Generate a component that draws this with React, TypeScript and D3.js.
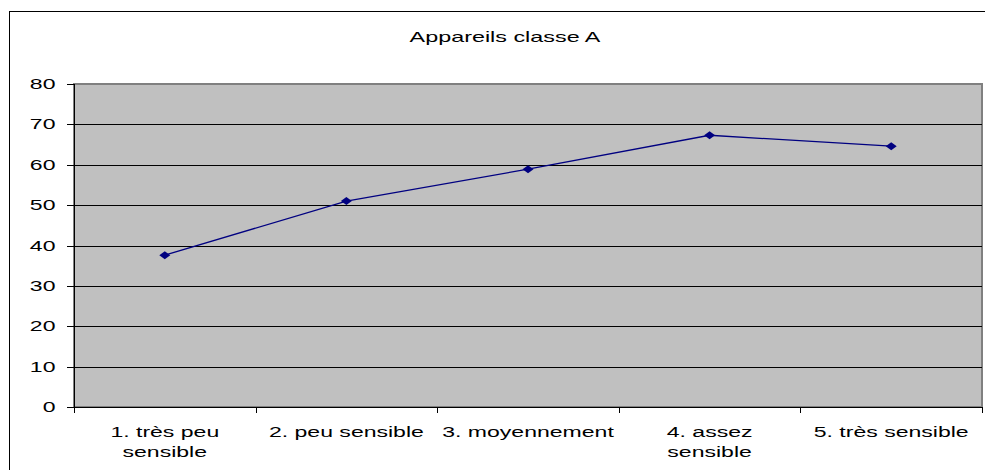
import React from "react";
import * as d3 from "d3";

const title = "Appareils classe A";
const categories = [["1. très peu", "sensible"], ["2. peu sensible"], ["3. moyennement"], ["4. assez", "sensible"], ["5. très sensible"]];
const values = [37.6, 51.0, 58.9, 67.3, 64.6];
const yTicks = [0, 10, 20, 30, 40, 50, 60, 70, 80];

const W = 985, H = 470;
const plot = { left: 74, top: 84, right: 982, bottom: 407 };
const SX = 1.6;
const FONT = "Liberation Sans, Arial, sans-serif";

export default function App() {
  const x = d3.scaleBand<number>().domain(d3.range(categories.length)).range([plot.left, plot.right]).padding(0);
  const y = d3.scaleLinear().domain([0, 80]).range([plot.bottom, plot.top]);
  const line = d3.line<number>().x((_, i) => x(i)! + x.bandwidth() / 2).y((d) => y(d));
  const boundaries = d3.range(categories.length + 1).map((i) => plot.left + i * x.bandwidth());

  const stretched = (tx: number, ty: number, anchor: string, text: string, size = 14, key?: any) => (
    <text key={key} transform={`translate(${tx},${ty}) scale(${SX},1)`} textAnchor={anchor} fontFamily={FONT} fontSize={size} fill="#000">{text}</text>
  );

  return (
    <svg width={W} height={H} style={{ position: "absolute", left: 0, top: 0 }}>
      <rect x={0} y={0} width={W} height={H} fill="#fff" />
      <rect x={9.5} y={11.5} width={W + 10} height={H + 10} fill="none" stroke="#000" strokeWidth={1} />
      {stretched(505, 42, "middle", title, 14.6)}
      <rect x={plot.left} y={plot.top} width={plot.right - plot.left} height={plot.bottom - plot.top} fill="#C0C0C0" stroke="#808080" strokeWidth={2} />
      {yTicks.filter((t) => t > 0 && t < 80).map((t) => (
        <line key={t} x1={plot.left} x2={plot.right} y1={Math.round(y(t)) + 0.5} y2={Math.round(y(t)) + 0.5} stroke="#000" strokeWidth={1} />
      ))}
      <line x1={plot.left + 0.5} x2={plot.left + 0.5} y1={plot.top} y2={plot.bottom} stroke="#000" />
      <line x1={plot.left} x2={plot.right} y1={plot.bottom + 0.5} y2={plot.bottom + 0.5} stroke="#000" />
      {yTicks.map((t) => (
        <g key={t}>
          <line x1={67} x2={plot.left} y1={Math.round(y(t)) + 0.5} y2={Math.round(y(t)) + 0.5} stroke="#000" />
          {stretched(55.5, y(t) + 5, "end", String(t), 14.4)}
        </g>
      ))}
      {boundaries.map((b, i) => (
        <line key={i} x1={Math.round(b) + 0.5} x2={Math.round(b) + 0.5} y1={plot.bottom} y2={plot.bottom + 6} stroke="#000" />
      ))}
      {categories.map((lines, i) => (
        <g key={i}>
          {lines.map((l, j) => stretched(x(i)! + x.bandwidth() / 2, 437 + j * 20, "middle", l, 14.4, j))}
        </g>
      ))}
      <path d={line(values) || ""} fill="none" stroke="#000080" strokeWidth={1.3} />
      {values.map((v, i) => {
        const cx = x(i)! + x.bandwidth() / 2, cy = y(v);
        return <path key={i} d={`M${cx - 5.5},${cy}L${cx},${cy - 4}L${cx + 5.5},${cy}L${cx},${cy + 4}Z`} fill="#000080" />;
      })}
    </svg>
  );
}
